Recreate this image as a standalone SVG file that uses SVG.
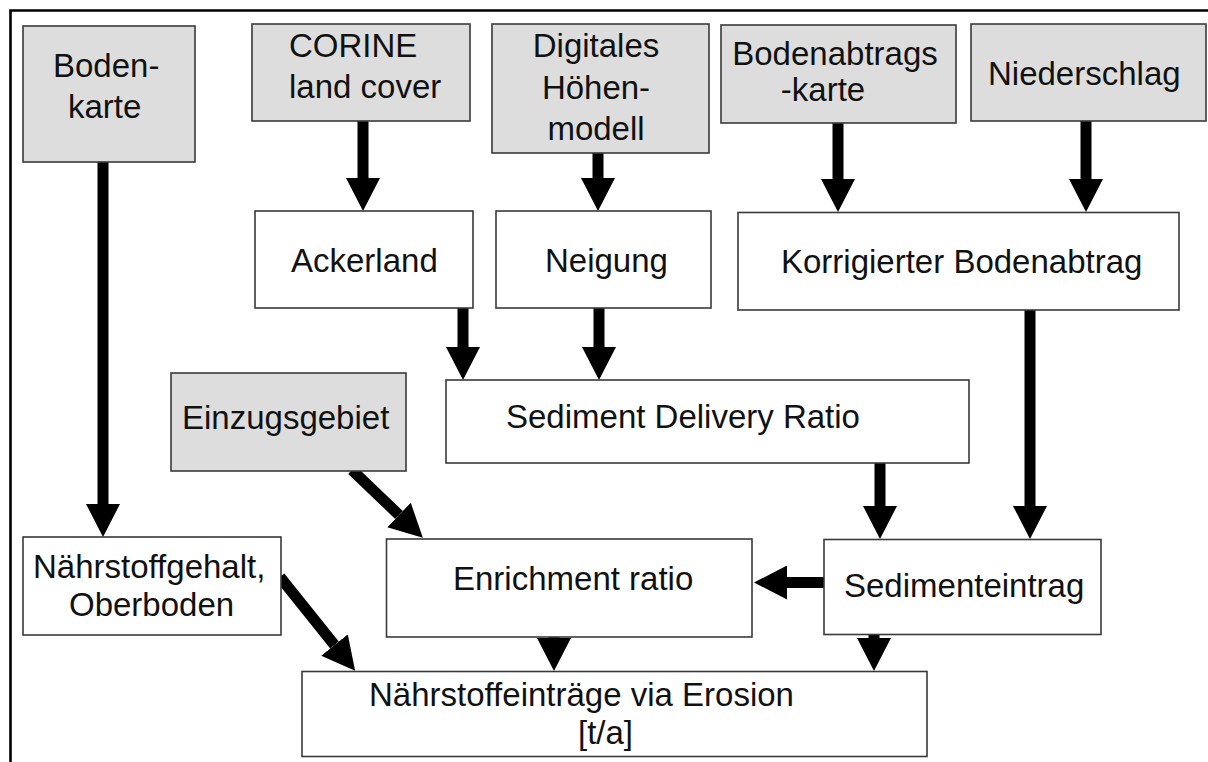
<svg xmlns="http://www.w3.org/2000/svg" width="1208" height="762" viewBox="0 0 1208 762">
<style>
  .box { fill: #ffffff; stroke: #3a3a3a; stroke-width: 1.6; }
  .src { fill: #dddddd; stroke: #3a3a3a; stroke-width: 1.6; }
  text { font-family: "Liberation Sans", Arial, sans-serif; font-size: 33px; fill: #111111; }
  .c { text-anchor: middle; }
  .conn { stroke: #000000; stroke-width: 11; fill: none; marker-end: url(#head); }
</style>
<defs>
  <marker id="head" markerUnits="userSpaceOnUse" markerWidth="33" markerHeight="34" refX="0" refY="17" orient="auto" viewBox="0 0 33 34">
    <path d="M0,0 L33,17 L0,34 Z" fill="#000000"/>
  </marker>
</defs>
<rect x="0" y="0" width="1208" height="762" fill="#ffffff"/>
<path d="M10.5,762 V10.5 H1208" fill="none" stroke="#000000" stroke-width="2.6"/>

<g id="connectors">
  <line class="conn" x1="103" y1="162" x2="103" y2="504"/>
  <line class="conn" x1="363" y1="121" x2="363" y2="178"/>
  <line class="conn" x1="598" y1="153" x2="598" y2="178"/>
  <line class="conn" x1="838" y1="123" x2="838" y2="179"/>
  <line class="conn" x1="1086" y1="121" x2="1086" y2="179"/>
  <line class="conn" x1="463" y1="308" x2="463" y2="347"/>
  <line class="conn" x1="599" y1="308" x2="599" y2="347"/>
  <line class="conn" x1="1030" y1="310" x2="1030" y2="506"/>
  <line class="conn" x1="880" y1="463" x2="880" y2="506"/>
  <line class="conn" x1="352" y1="470" x2="399" y2="515"/>
  <line class="conn" x1="824" y1="582.5" x2="787" y2="582.5"/>
  <line class="conn" x1="280" y1="577" x2="334.5" y2="645"/>
  <line class="conn" x1="554" y1="636" x2="554" y2="638"/>
  <line class="conn" x1="874" y1="634" x2="874" y2="638"/>
</g>

<g id="bodenkarte">
  <rect class="src" x="23" y="26" width="172" height="136"/>
  <text x="53" y="77">Boden-</text>
  <text x="68" y="118">karte</text>
</g>
<g id="corine">
  <rect class="src" x="252" y="24" width="218" height="97"/>
  <text x="289" y="57">CORINE</text>
  <text x="289" y="98">land cover</text>
</g>
<g id="dhm">
  <rect class="src" x="492" y="24" width="217" height="129"/>
  <text class="c" x="596" y="57">Digitales</text>
  <text class="c" x="596" y="99">Höhen-</text>
  <text class="c" x="596" y="140">modell</text>
</g>
<g id="bodenabtragskarte">
  <rect class="src" x="721" y="25" width="235" height="98"/>
  <text class="c" x="835" y="65">Bodenabtrags</text>
  <text class="c" x="823" y="101">-karte</text>
</g>
<g id="niederschlag">
  <rect class="src" x="971" y="24" width="235" height="97"/>
  <text x="988" y="85">Niederschlag</text>
</g>
<g id="ackerland">
  <rect class="box" x="255" y="211" width="218" height="97"/>
  <text x="291" y="272">Ackerland</text>
</g>
<g id="neigung">
  <rect class="box" x="496" y="211" width="215" height="97"/>
  <text x="545" y="272">Neigung</text>
</g>
<g id="korrigierter">
  <rect class="box" x="738" y="212.5" width="441" height="97.5"/>
  <text x="781" y="273">Korrigierter Bodenabtrag</text>
</g>
<g id="einzugsgebiet">
  <rect class="src" x="171" y="373" width="235" height="98"/>
  <text x="182" y="429">Einzugsgebiet</text>
</g>
<g id="sdr">
  <rect class="box" x="446" y="380" width="523" height="83"/>
  <text x="506" y="428">Sediment Delivery Ratio</text>
</g>
<g id="naehrstoffgehalt">
  <rect class="box" x="23" y="537" width="258" height="98"/>
  <text x="33" y="578">Nährstoffgehalt,</text>
  <text x="69" y="616">Oberboden</text>
</g>
<g id="enrichment">
  <rect class="box" x="386.5" y="539" width="365.5" height="98"/>
  <text x="453" y="590">Enrichment ratio</text>
</g>
<g id="sedimenteintrag">
  <rect class="box" x="824" y="539.5" width="277" height="95"/>
  <text x="844" y="597">Sedimenteintrag</text>
</g>
<g id="naehrstoffeintraege">
  <rect class="box" x="302" y="671.5" width="625" height="85"/>
  <text x="369" y="706">Nährstoffeinträge via Erosion</text>
  <text x="578" y="744">[t/a]</text>
</g>
</svg>
